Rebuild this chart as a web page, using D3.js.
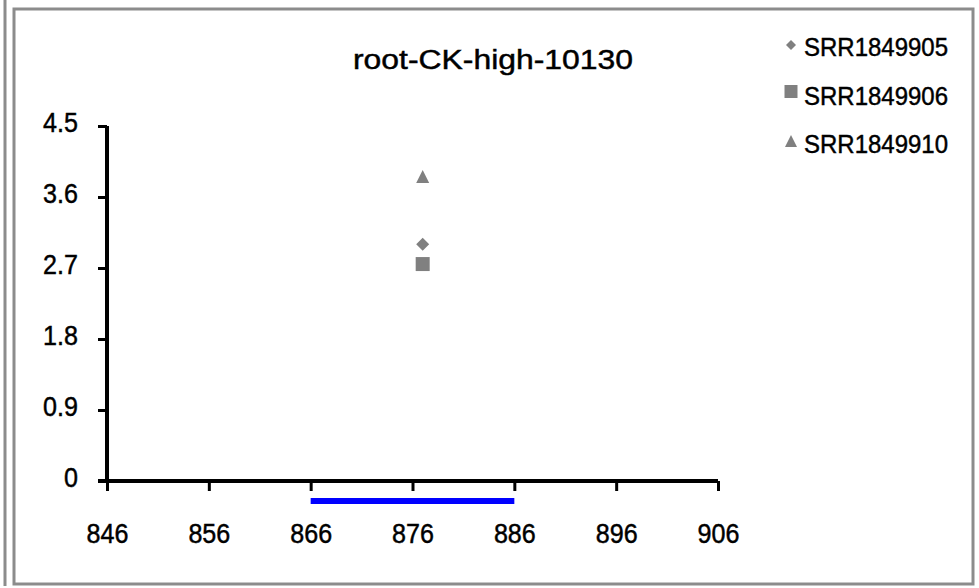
<!DOCTYPE html>
<html><head><meta charset="utf-8">
<script src="https://cdn.jsdelivr.net/npm/d3@7"></script>
<style>body{margin:0;background:#fff}svg{display:block;font-family:"Liberation Sans",Arial,sans-serif}svg text{stroke:#000;stroke-width:0.45px}</style>
</head><body>
<svg id="c" width="979" height="588"></svg>
<script>
const title = "root-CK-high-10130";
const seriesNames = ["SRR1849905", "SRR1849906", "SRR1849910"];
const seriesShapes = ["diamond", "square", "triangle"];
const xPositions = [877, 877, 877];
const seriesValues = [3.0, 2.75, 3.86];
const xTicks = [846, 856, 866, 876, 886, 896, 906];
const yTicks = [0, 0.9, 1.8, 2.7, 3.6, 4.5];
const regionStart = 866, regionEnd = 886;

const svg = d3.select("#c");
const FONT = "'Liberation Sans',Arial,sans-serif";
// squeeze a taller font to a narrower width, like the reference rendering
function fit(sel, ratio) {
  sel.each(function () {
    const w = this.getComputedTextLength();
    d3.select(this).attr("textLength", w * ratio).attr("lengthAdjust", "spacingAndGlyphs");
  });
}
// frames
svg.append("line").attr("x1",5).attr("x2",5).attr("y1",0).attr("y2",586).attr("stroke","#8c8c8c").attr("stroke-width",3);
svg.append("rect").attr("x",14).attr("y",9).attr("width",959).attr("height",575).attr("fill","none").attr("stroke","#8c8c8c").attr("stroke-width",3);

const x = d3.scaleLinear().domain([846, 906]).range([107, 718]);
const y = d3.scaleLinear().domain([0, 4.5]).range([481, 126]);

svg.append("text").attr("x",353).attr("y",69).attr("font-size",27)
  .attr("textLength",280).attr("lengthAdjust","spacingAndGlyphs").text(title);

const xAxis = svg.append("g").attr("transform","translate(0,481)")
  .call(d3.axisBottom(x).tickValues(xTicks).tickFormat(d3.format("d")).tickSizeInner(10).tickSizeOuter(0));
const yAxis = svg.append("g").attr("transform","translate(107,0)")
  .call(d3.axisLeft(y).tickValues(yTicks).tickFormat(d => d === 0 ? "0" : d3.format(".1f")(d)).tickSizeInner(9).tickSizeOuter(0));
[xAxis, yAxis].forEach(g => {
  g.select(".domain").attr("stroke","#000").attr("stroke-width",4);
  g.selectAll(".tick line").attr("stroke","#000").attr("stroke-width",3);
  g.selectAll(".tick text").attr("font-size",27).attr("fill","#000").attr("font-family",FONT);
});
xAxis.selectAll(".tick text").attr("y",62).attr("dy",0);
yAxis.selectAll(".tick text").attr("x",-29).attr("dy",5);
fit(xAxis.selectAll(".tick text"), 0.93);
fit(yAxis.selectAll(".tick text"), 0.93);
yAxis.select(".domain").attr("d", `M0,${y(4.5)}V${y(0)+2}`);
xAxis.select(".domain").attr("d", `M${x(846)-9},0H${x(906)}`);

// region bar
svg.append("line").attr("x1",x(regionStart)).attr("x2",x(regionEnd)).attr("y1",501).attr("y2",501)
  .attr("stroke","#0000ff").attr("stroke-width",6);

function shapePath(s, w) {
  const h = w / 2;
  if (s === "diamond") return `M0,${-h}L${h},0L0,${h}L${-h},0Z`;
  if (s === "square") return `M${-h},${-h}H${h}V${h}H${-h}Z`;
  return `M0,${-h}L${h},${h}H${-h}Z`;
}
const sizeMap = {diamond: 13, square: 14, triangle: 13};
seriesNames.forEach((n, i) => {
  svg.append("path").attr("d", shapePath(seriesShapes[i], sizeMap[seriesShapes[i]]))
    .attr("transform", `translate(${x(xPositions[i])},${y(seriesValues[i])})`).attr("fill","#808080");
});

// legend
const legMarkY = [45, 91.5, 141];
const legTextY = [56, 105, 153];
const legSize = {diamond: 10, square: 13, triangle: 12};
seriesNames.forEach((n, i) => {
  const s = seriesShapes[i];
  svg.append("path").attr("d", shapePath(s, legSize[s])).attr("transform", `translate(791,${legMarkY[i]})`).attr("fill","#808080");
  svg.append("text").attr("x",804).attr("y",legTextY[i]).attr("font-size",25)
    .attr("textLength",144).attr("lengthAdjust","spacingAndGlyphs").text(n);
});
</script>
</body></html>
